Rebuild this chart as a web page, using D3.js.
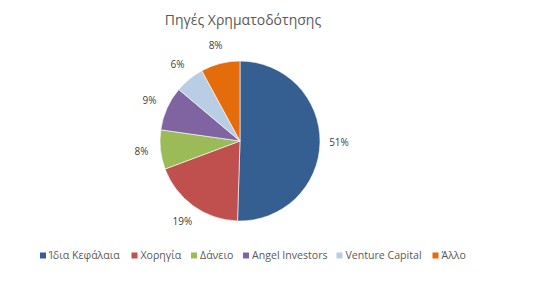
<!DOCTYPE html>
<html><head><meta charset="utf-8">
<script src="https://cdn.jsdelivr.net/npm/d3@7"></script>
<style>body{margin:0;background:#fff}svg{display:block}</style>
</head><body>
<script>
const categories = ["Ίδια Κεφάλαια","Χορηγία","Δάνειο","Angel Investors","Venture Capital","Άλλο"];
const values = [51,19,8,9,6,8];
const colors = ["#365f91","#c0504d","#9bbb59","#8064a2","#b9cde5","#e46c0a"];
const title = "Πηγές Χρηματοδότησης";

const W=554,H=291, cx=240, cy=141, r=80, lr=99;
const font="'Open Sans', 'Liberation Sans', sans-serif";
const svg=d3.select("body").append("svg").attr("width",W).attr("height",H);
svg.append("rect").attr("width",W).attr("height",H).attr("fill","#fff");

svg.append("text").attr("x",243).attr("y",25).attr("text-anchor","middle")
  .attr("font-family",font).attr("font-size",14).attr("fill","#595959").text(title);

const data=categories.map((c,i)=>({c,v:values[i],col:colors[i]}));
const pie=d3.pie().value(d=>d.v).sort(null);
const arcs=pie(data);
const arc=d3.arc().innerRadius(0).outerRadius(r);
const g=svg.append("g").attr("transform",`translate(${cx},${cy})`);
g.selectAll("path").data(arcs).join("path").attr("d",arc).attr("fill",d=>d.data.col)
  .attr("stroke","#fff").attr("stroke-width",0.6);
const larc=d3.arc().innerRadius(lr).outerRadius(lr);
g.selectAll("text").data(arcs).join("text")
  .attr("transform",d=>`translate(${larc.centroid(d)})`)
  .attr("text-anchor","middle").attr("dy","0.35em")
  .attr("font-family",font).attr("font-size",10).attr("fill","#404040")
  .text(d=>d.data.v+"%");

// legend
const leg=svg.append("g");
const legX=[40,131.5,191,243,336.5,432.5];
const items=leg.selectAll("g").data(data).join("g").attr("transform",(d,i)=>`translate(${legX[i]},255.5)`);
items.append("rect").attr("x",0).attr("y",-3).attr("width",6).attr("height",6).attr("fill",d=>d.col);
items.append("text").attr("x",9).attr("dy","0.35em").attr("font-family",font).attr("font-size",10.6)
  .attr("fill","#595959").text(d=>d.c);
</script>
</body></html>
